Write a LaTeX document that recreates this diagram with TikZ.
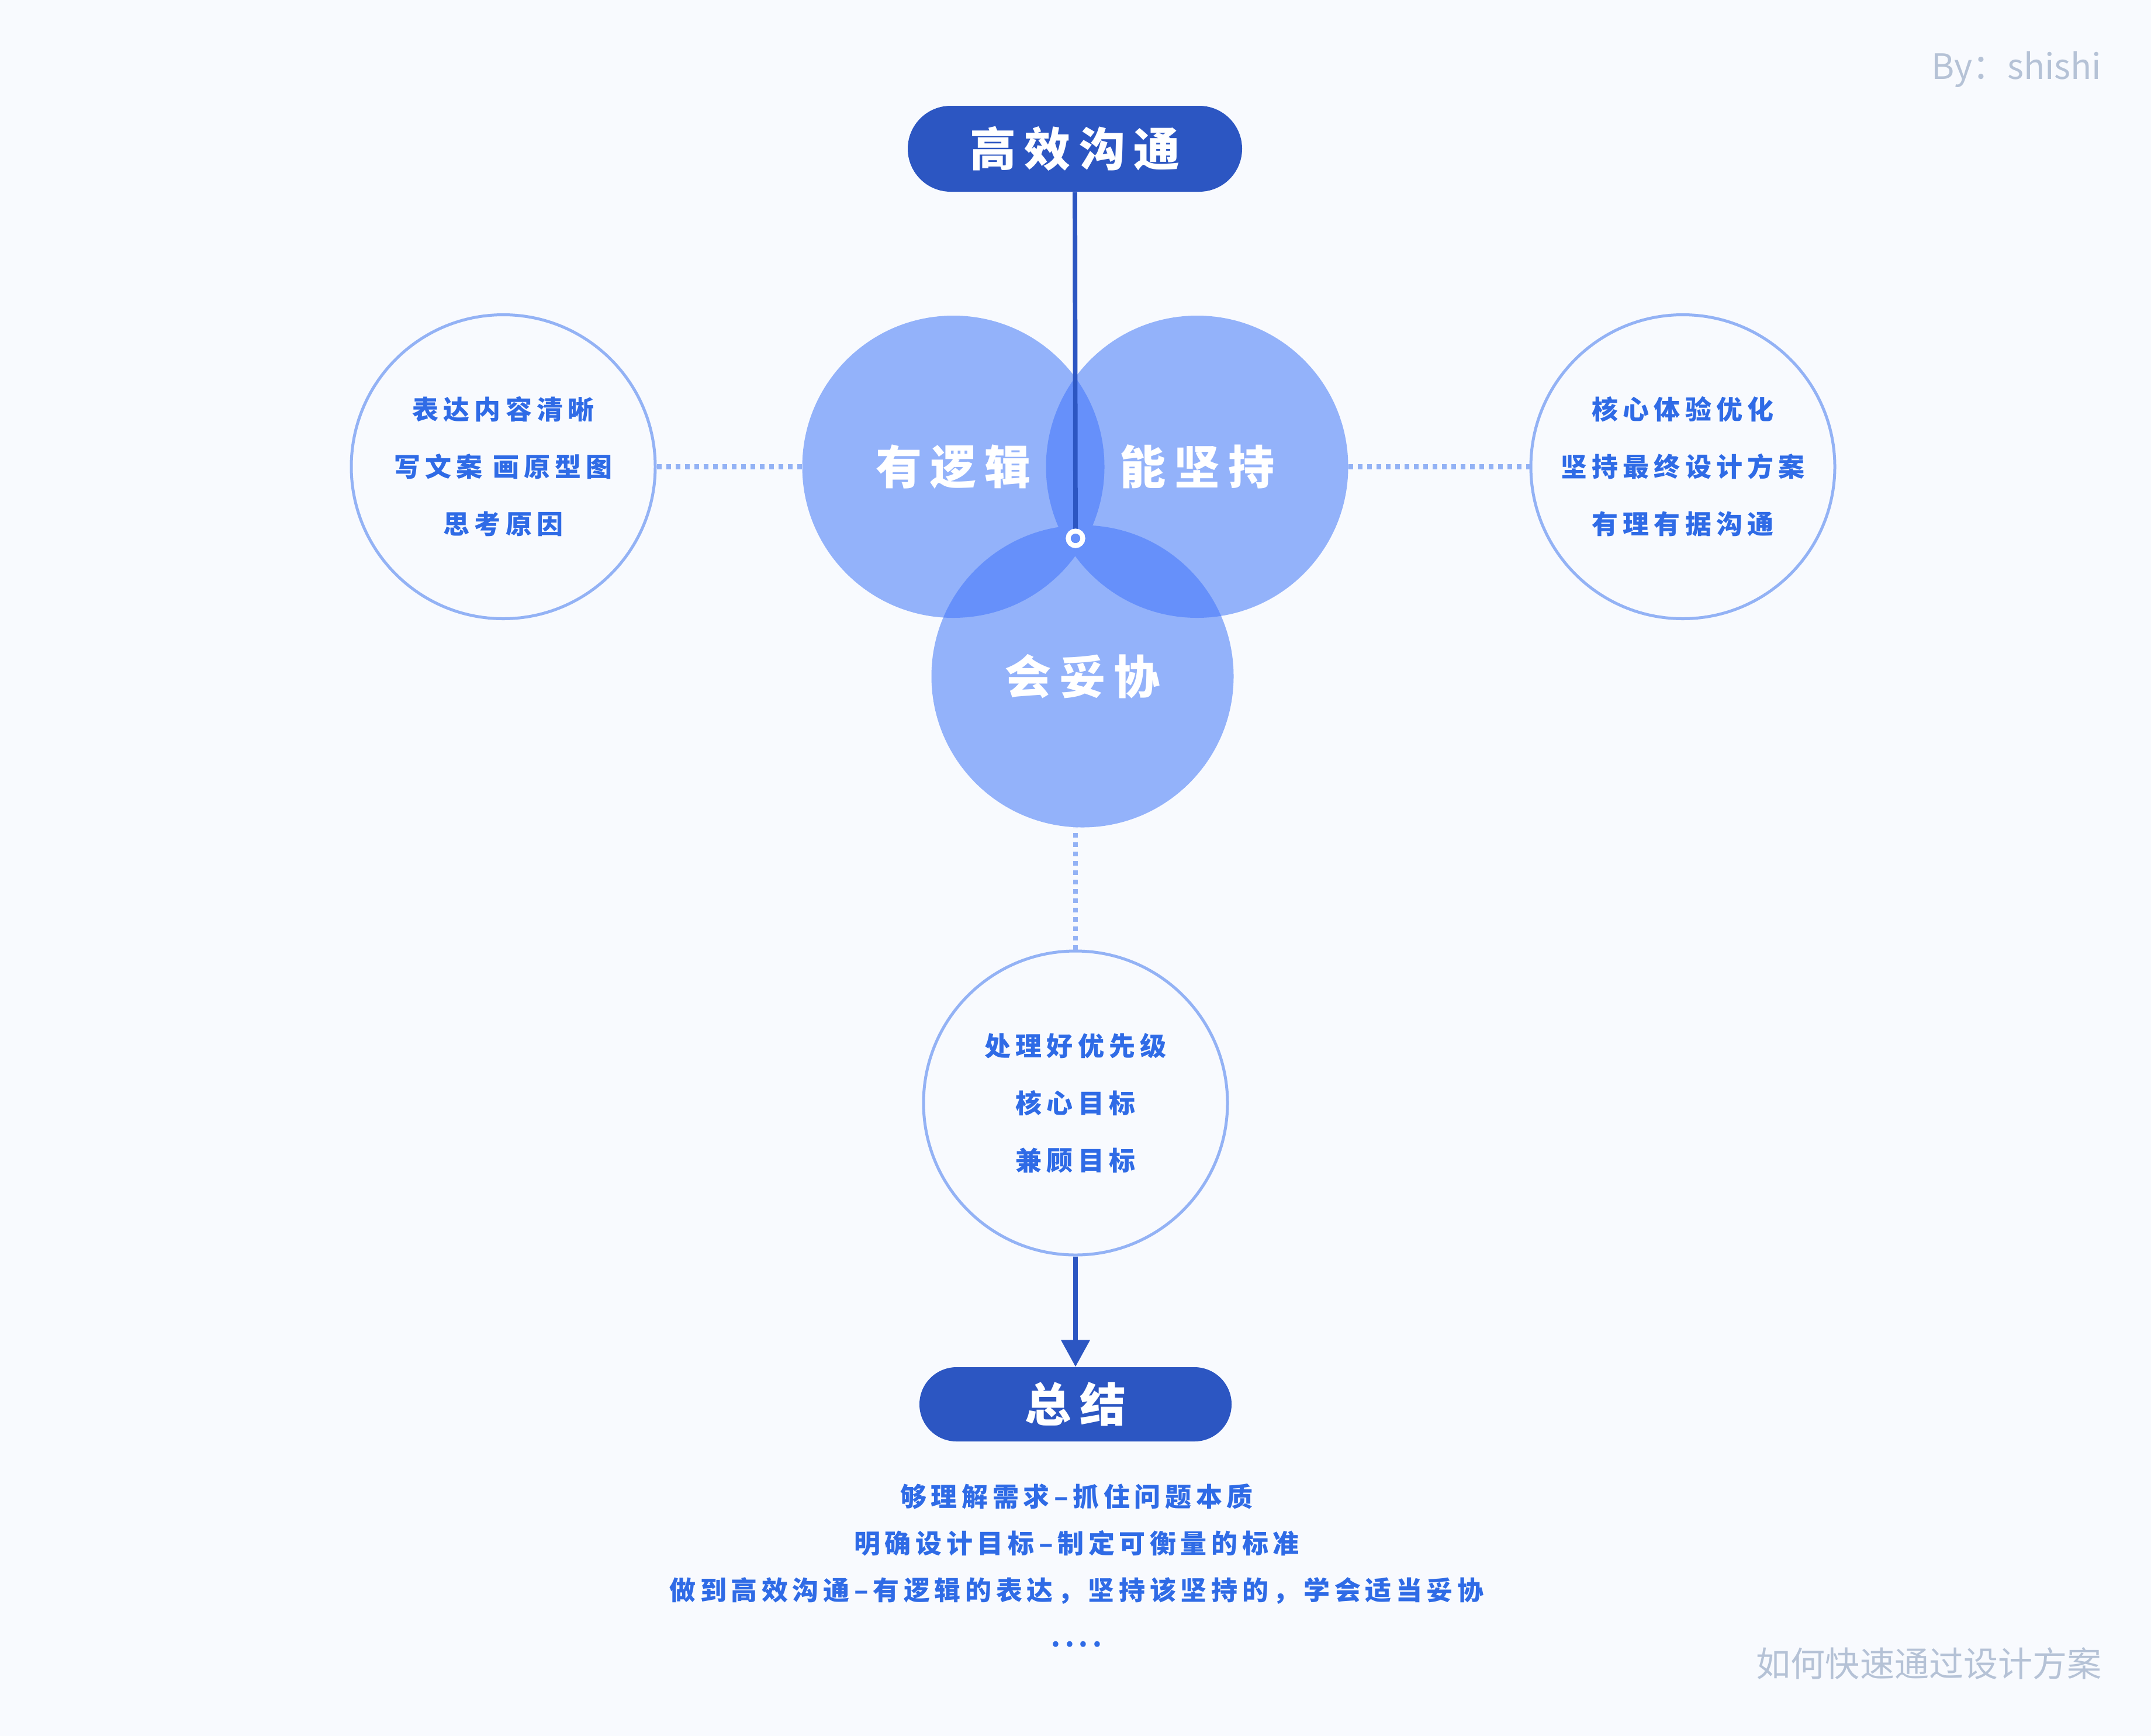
\documentclass[tikz,border=0pt]{standalone}
\usepackage{fontspec}
\setmainfont{Noto Sans CJK SC}
\newfontfamily\spaced[LetterSpace=18]{Noto Sans CJK SC}
\newfontfamily\tight[LetterSpace=17]{Noto Sans CJK SC}
\usepackage{tikz}
\usetikzlibrary{positioning, arrows.meta}

\definecolor{pillBlue}{HTML}{2C56C2}
\definecolor{discBlue}{HTML}{93B2FA}
\definecolor{lensBlue}{HTML}{6690FA}
\definecolor{edgeBlue}{HTML}{93B2F5}
\definecolor{inkBlue}{HTML}{2F6BE6}
\definecolor{noteGray}{HTML}{B5C2D6}
\definecolor{paper}{HTML}{F8FAFE}

\begin{document}
\begin{tikzpicture}[
    on grid, node distance=4cm,
    pill/.style={rectangle, fill=pillBlue, text=white, inner sep=0pt,
        font=\spaced\bfseries\fontsize{22.5}{27}\selectfont},
    disc/.style={circle, fill=discBlue, minimum size=5.17cm, inner sep=0pt, text=white,
        font=\spaced\bfseries\fontsize{22.5}{27}\selectfont},
    bubble/.style={circle, draw=edgeBlue, line width=0.05cm, minimum size=5.2cm, inner sep=0pt,
        text=inkBlue, align=center, font=\spaced\bfseries\fontsize{12.8}{27.9}\selectfont},
    dotline/.style={draw=edgeBlue, line width=0.085cm, dash pattern=on 0.08cm off 0.08cm},
    stem/.style={draw=pillBlue, line width=0.077cm}
]
    \fill[paper] (0,0) rectangle (36.8,-29.7);

    % three overlapping circles
    \node[disc] (logic) at (16.31,-7.985) {有逻辑};
    \node[disc] (persist) [right=4.17cm of logic] {能坚持};
    \node[disc] (yield) [below right=3.585cm and 2.21cm of logic] {会妥协};
    \begin{scope}
        \clip (logic.center) circle (2.585);
        \fill[lensBlue] (persist.center) circle (2.585);
        \fill[lensBlue] (yield.center) circle (2.585);
    \end{scope}
    \begin{scope}
        \clip (persist.center) circle (2.585);
        \fill[lensBlue] (yield.center) circle (2.585);
    \end{scope}

    \node[pill, minimum width=5.72cm, minimum height=1.47cm, rounded corners=0.735cm]
        (talk) at (18.39,-2.545) {高效沟通};
    \node[circle, draw=white, line width=0.08cm, minimum size=0.25cm, inner sep=0pt]
        (knot) at (18.40,-9.21) {};

    % outline circles
    \node[bubble] (leftnote) [left=7.70cm of logic] {表达内容清晰\\写文案 画原型图\\思考原因};
    \node[bubble] (rightnote) [right=8.31cm of persist] {核心体验优化\\坚持最终设计方案\\有理有据沟通};
    \node[bubble] (lownote) at (18.40,-18.87) {处理好优先级\\核心目标\\兼顾目标};

    \node[pill, minimum width=5.34cm, minimum height=1.27cm, rounded corners=0.635cm]
        (wrap) [below=5.155cm of lownote] {总结};
    \node[text=inkBlue, align=center, anchor=north, font=\tight\bfseries\fontsize{12.8}{22.8}\selectfont]
        (points) at (18.42,-25.26) {够理解需求–抓住问题本质\\明确设计目标–制定可衡量的标准\\做到高效沟通–有逻辑的表达，坚持该坚持的，学会适当妥协\\....};

    \path[stem] (talk.south) -- (knot.north);
    \node[circle, draw=white, line width=0.08cm, minimum size=0.25cm, inner sep=0pt] at (knot) {};
    \path[dotline] (leftnote.east) -- (logic.west);
    \path[dotline] (persist.east) -- (rightnote.west);
    \path[dotline] (lownote.north) -- (lownote.north |- yield.south);
    \path[stem, -{Triangle[width=0.48cm, length=0.46cm]}] (lownote.south) -- (wrap.north);

    \node[text=noteGray, anchor=base east, inner sep=0pt, font=\fontsize{17}{20}\selectfont] (author) at (35.96,-1.35) {By：shishi};
    \node[text=noteGray, anchor=east, inner sep=0pt, font=\fontsize{16.8}{20}\selectfont] (topic) at (35.96,-28.46) {如何快速通过设计方案};
\end{tikzpicture}
\end{document}
